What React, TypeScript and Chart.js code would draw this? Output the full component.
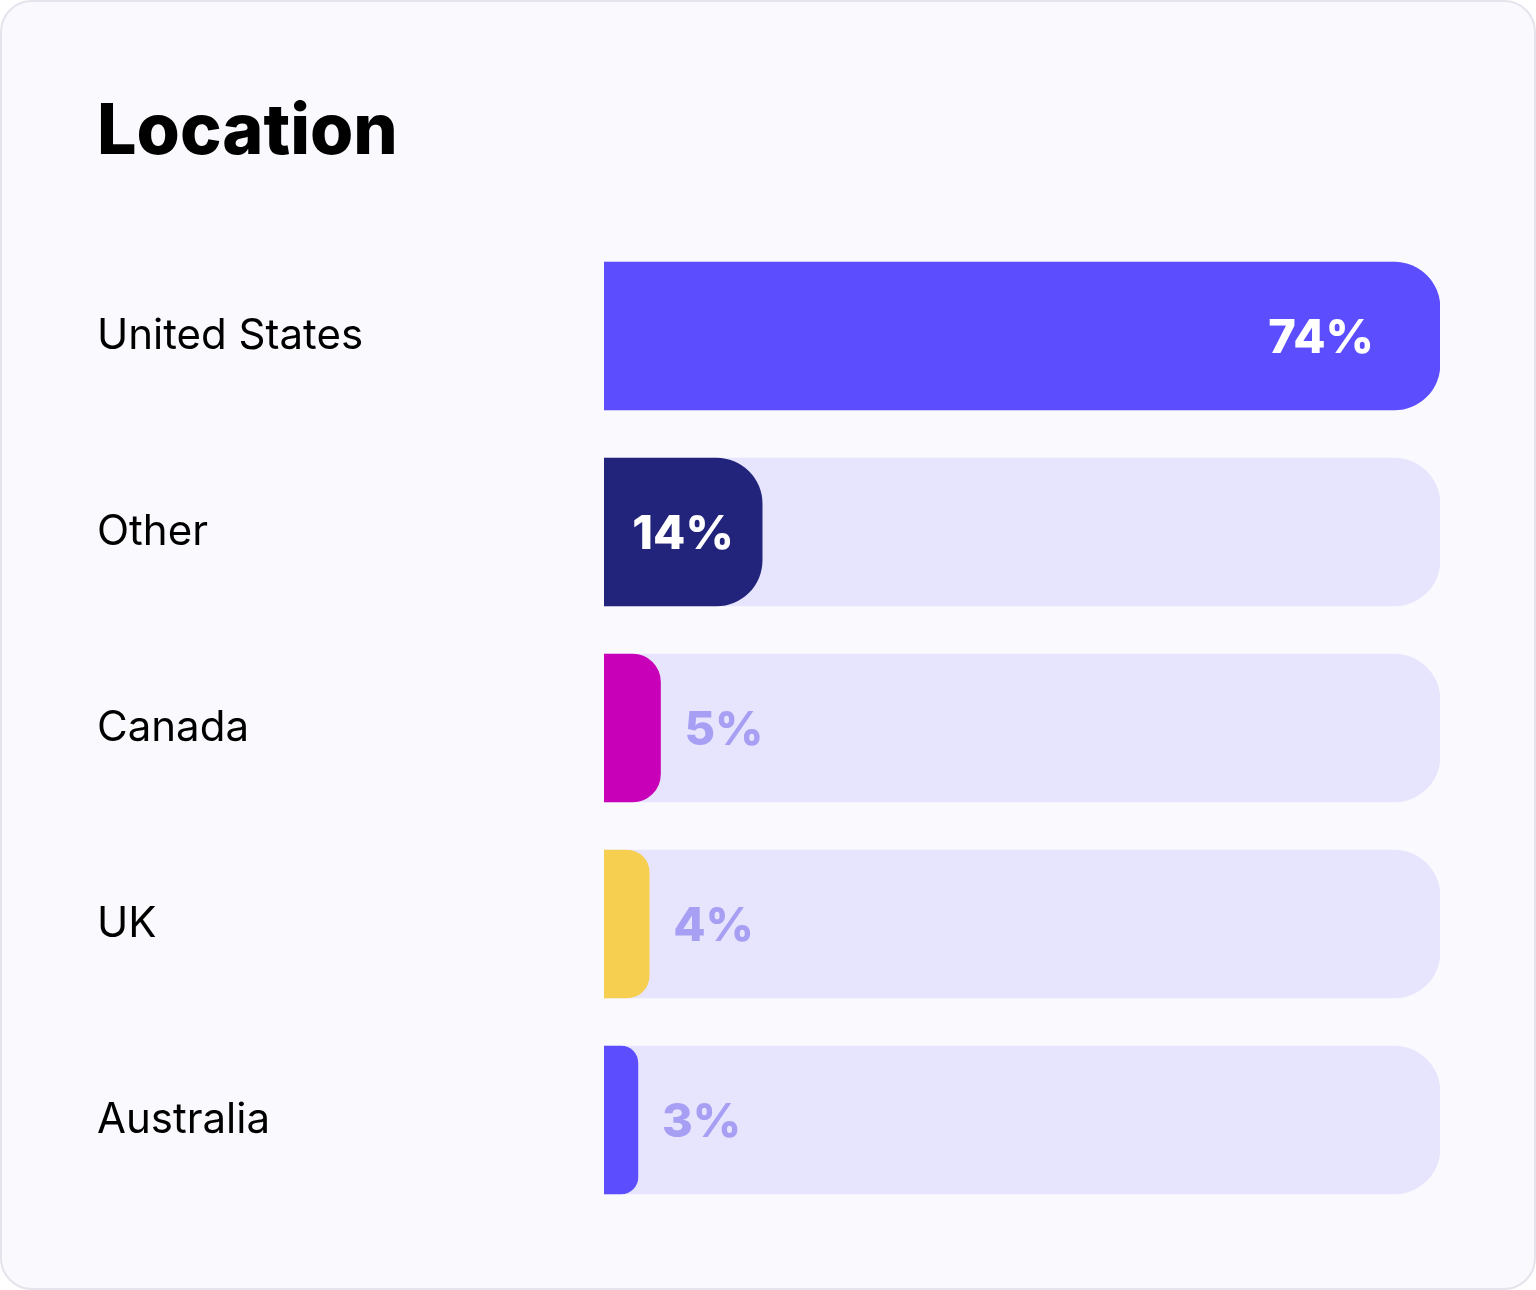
import { useEffect, useRef } from "react";
import { Chart, registerables } from "chart.js";

Chart.register(...registerables);

const countries = ["United States", "Other", "Canada", "UK", "Australia"];
const shares = [74, 14, 5, 4, 3];
const barColors = ["#5c4dff", "#22237a", "#c800b7", "#f6ce50", "#5c4dff"];
const trackMax = 74;

const FONT = "Inter";

// draws the "74%" style labels, inside the bar when it fits, after it otherwise
const valueLabels = {
  id: "valueLabels",
  afterDatasetsDraw(chart: any) {
    const { ctx } = chart;
    const meta = chart.getDatasetMeta(0);
    ctx.save();
    ctx.font = `800 47px ${FONT}`;
    ctx.textBaseline = "middle";
    meta.data.forEach((bar: any, i: number) => {
      const text = shares[i] + "%";
      const tw = ctx.measureText(text).width;
      const w = bar.x - bar.base;
      if (w > tw + 40) {
        const inset = Math.min(66, (w - tw) / 2);
        ctx.fillStyle = "#ffffff";
        ctx.textAlign = "right";
        ctx.fillText(text, bar.x - inset, bar.y + 3);
      } else {
        ctx.fillStyle = "#a79ff3";
        ctx.textAlign = "left";
        ctx.fillText(text, bar.x + 24, bar.y + 3);
      }
    });
    ctx.restore();
  },
};

const LocationChart = () => {
  const canvasRef = useRef<HTMLCanvasElement>(null);
  const chartRef = useRef<Chart | null>(null);

  useEffect(() => {
    if (!canvasRef.current) return;
    chartRef.current = new Chart(canvasRef.current, {
      type: "bar",
      data: {
        labels: countries,
        datasets: [
          {
            data: shares,
            backgroundColor: barColors,
            borderRadius: 46,
            barThickness: 148,
            grouped: false,
            order: 0,
          },
          {
            data: countries.map(() => trackMax),
            backgroundColor: "#e7e5fd",
            borderRadius: 46,
            barThickness: 148,
            grouped: false,
            order: 1,
          },
        ],
      },
      options: {
        indexAxis: "y",
        animation: false,
        responsive: true,
        maintainAspectRatio: false,
        layout: { padding: { left: 97, right: 96, top: 0, bottom: 72 } },
        scales: {
          x: { display: false, min: 0, max: trackMax },
          y: {
            grid: { display: false },
            border: { display: false },
            ticks: {
              crossAlign: "far",
              color: "#000000",
              font: { family: FONT, size: 42, weight: 400 },
            },
            afterFit: (scale: any) => {
              scale.width = 507;
            },
          },
        },
        plugins: {
          legend: { display: false },
          tooltip: { enabled: false },
          title: {
            display: true,
            text: "Location",
            align: "start",
            color: "#000000",
            font: { family: FONT, size: 70, weight: 800, lineHeight: 1.2 },
            padding: { top: 91, bottom: 63 },
          },
        },
      },
      plugins: [valueLabels],
    });
    return () => {
      chartRef.current?.destroy();
    };
  }, []);

  return (
    <div style={{ position: "relative", width: 1536, height: 1290 }}>
      <div
        style={{
          position: "absolute",
          inset: 0,
          boxSizing: "border-box",
          border: "2px solid #e4e4ec",
          borderRadius: 32,
          background: "#faf9fe",
        }}
      />
      <div style={{ position: "absolute", inset: 0 }}>
        <canvas ref={canvasRef}></canvas>
      </div>
    </div>
  );
};

export default function App() {
  useEffect(() => {
    document.body.style.margin = "0";
  }, []);
  return <LocationChart />;
}
